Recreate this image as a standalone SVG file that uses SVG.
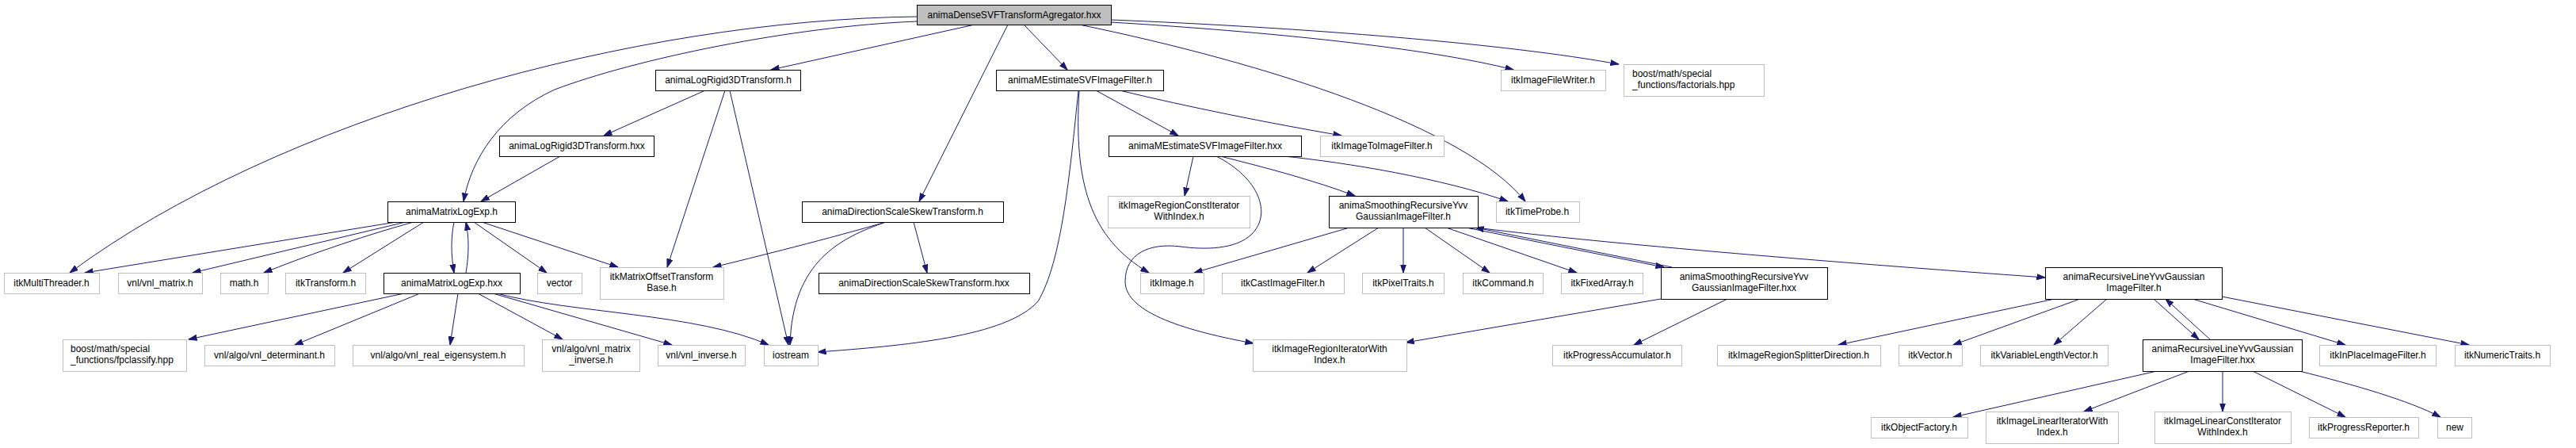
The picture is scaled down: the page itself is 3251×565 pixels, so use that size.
<svg xmlns="http://www.w3.org/2000/svg" width="3251" height="565" viewBox="0 0 3251 565">
<style>
.n rect{fill:#fff;stroke:#000;stroke-width:1}
.g rect{fill:#fff;stroke:#bfbfbf;stroke-width:1}
.r rect{fill:#bfbfbf;stroke:#000;stroke-width:1}
text{font-family:"Liberation Sans",Arial,Helvetica,sans-serif;font-size:12px;fill:#000;text-anchor:middle}
text.l{text-anchor:start}
#edges path{fill:none;stroke:#191970;stroke-width:1;marker-end:url(#a)}
</style>
<defs>
<marker id="a" markerUnits="userSpaceOnUse" markerWidth="11" markerHeight="8" refX="10.5" refY="4" orient="auto" viewBox="0 0 11 8">
<path d="M0,0.5 L10.5,4 L0,7.5 z" fill="#191970" stroke="#191970" stroke-width="1"/>
</marker>
</defs>
<rect width="3251" height="565" fill="#fff"/>
<g id="edges">
<path d="M1157,21 C800,25 350,150 88,344"/>
<path d="M1157,27 C1000,33 800,75 700,113 C630,145 595,200 585,254"/>
<path d="M1230,31 L973,88"/>
<path d="M1292,31 L1347,88"/>
<path d="M1272,31 L1160,254"/>
<path d="M1402,28 C1600,40 1800,60 1910,88"/>
<path d="M1402,25 C1650,35 1900,55 2043,81"/>
<path d="M1362,31 C1600,80 1850,160 1925,254"/>
<path d="M890,114 L762,171"/>
<path d="M915,114 L842,337"/>
<path d="M921,114 L995,435"/>
<path d="M707,197 L607,254"/>
<path d="M500,280 L107,344"/>
<path d="M512,280 L243,344"/>
<path d="M522,280 C450,300 380,325 333,344"/>
<path d="M535,280 L433,344"/>
<path d="M573,280 C569,300 569,320 573,344"/>
<path d="M588,344 C592,320 592,300 588,280"/>
<path d="M598,280 L690,344"/>
<path d="M608,280 L780,337"/>
<path d="M510,370 L238,428"/>
<path d="M530,370 L372,435"/>
<path d="M578,370 L568,435"/>
<path d="M603,370 L710,428"/>
<path d="M622,370 L848,435"/>
<path d="M627,370 C720,395 880,395 970,435"/>
<path d="M1118,280 C1050,300 950,325 900,337"/>
<path d="M1118,280 C1060,300 1000,330 997,435"/>
<path d="M1153,280 L1170,344"/>
<path d="M1383,114 L1487,171"/>
<path d="M1413,114 C1500,135 1600,155 1693,171"/>
<path d="M1361,114 C1350,220 1340,330 1310,380 C1270,425 1140,436 1032,444"/>
<path d="M1362,114 C1355,230 1375,300 1450,344"/>
<path d="M1506,197 L1495,247"/>
<path d="M1620,197 C1700,205 1820,225 1903,254"/>
<path d="M1540,197 C1600,212 1660,228 1710,247"/>
<path d="M1535,197 C1590,225 1605,270 1580,295 C1560,315 1520,315 1490,311 C1450,306 1420,320 1420,355 C1420,395 1500,418 1582,433"/>
<path d="M1703,287 L1507,344"/>
<path d="M1740,287 L1650,344"/>
<path d="M1771,287 L1771,344"/>
<path d="M1798,287 L1880,344"/>
<path d="M1825,287 L1990,344"/>
<path d="M1850,287 L2100,337"/>
<path d="M2110,337 L1862,287"/>
<path d="M1855,286 C2000,305 2300,330 2581,350"/>
<path d="M2096,377 L1774,432"/>
<path d="M2180,377 L2062,435"/>
<path d="M2593,377 L2320,435"/>
<path d="M2625,377 L2465,435"/>
<path d="M2659,377 L2592,435"/>
<path d="M2718,377 L2775,428"/>
<path d="M2789,428 L2733,377"/>
<path d="M2767,377 L2960,435"/>
<path d="M2804,374 L3116,435"/>
<path d="M2722,468 L2465,526"/>
<path d="M2763,468 L2630,519"/>
<path d="M2805,468 L2805,519"/>
<path d="M2843,468 L2960,526"/>
<path d="M2902,468 C2970,485 3040,505 3080,526"/>
</g>
<g id="n_root" class="r"><rect x="1157.5" y="6.5" width="245" height="25"/><text x="1280" y="23">animaDenseSVFTransformAgregator.hxx</text></g>
<g id="n_logrigid_h" class="n"><rect x="827.5" y="88.5" width="183" height="26"/><text x="919" y="105">animaLogRigid3DTransform.h</text></g>
<g id="n_logrigid_hxx" class="n"><rect x="630.5" y="171.5" width="195" height="26"/><text x="728" y="188">animaLogRigid3DTransform.hxx</text></g>
<g id="n_matrixlogexp_h" class="n"><rect x="489.5" y="254.5" width="161" height="26"/><text x="570" y="271">animaMatrixLogExp.h</text></g>
<g id="n_dirscale_h" class="n"><rect x="1012.5" y="254.5" width="254" height="26"/><text x="1139" y="271">animaDirectionScaleSkewTransform.h</text></g>
<g id="n_mest_h" class="n"><rect x="1257.5" y="88.5" width="211" height="26"/><text x="1363" y="105">animaMEstimateSVFImageFilter.h</text></g>
<g id="n_mest_hxx" class="n"><rect x="1399.5" y="171.5" width="243" height="26"/><text x="1521" y="188">animaMEstimateSVFImageFilter.hxx</text></g>
<g id="n_constiter" class="g"><rect x="1398.5" y="247.5" width="179" height="40"/><text x="1488" y="263">itkImageRegionConstIterator</text><text x="1488" y="277">WithIndex.h</text></g>
<g id="n_filewriter" class="g"><rect x="1894.5" y="88.5" width="132" height="26"/><text x="1960" y="105">itkImageFileWriter.h</text></g>
<g id="n_factorials" class="g"><rect x="2049.5" y="81.5" width="177" height="40"/><text class="l" x="2060" y="97">boost/math/special</text><text class="l" x="2060" y="111">_functions/factorials.hpp</text></g>
<g id="n_imgtoimg" class="g"><rect x="1666.5" y="171.5" width="156" height="26"/><text x="1744" y="188">itkImageToImageFilter.h</text></g>
<g id="n_smooth_h" class="n"><rect x="1677.5" y="247.5" width="188" height="40"/><text x="1771" y="263">animaSmoothingRecursiveYvv</text><text x="1771" y="277">GaussianImageFilter.h</text></g>
<g id="n_timeprobe" class="g"><rect x="1888.5" y="254.5" width="105" height="26"/><text x="1940" y="271">itkTimeProbe.h</text></g>
<g id="n_multithreader" class="g"><rect x="5.5" y="344.5" width="120" height="26"/><text x="65" y="361">itkMultiThreader.h</text></g>
<g id="n_vnlmatrix" class="g"><rect x="149.5" y="344.5" width="106" height="26"/><text x="202" y="361">vnl/vnl_matrix.h</text></g>
<g id="n_math" class="g"><rect x="278.5" y="344.5" width="60" height="26"/><text x="308" y="361">math.h</text></g>
<g id="n_transform" class="g"><rect x="360.5" y="344.5" width="101" height="26"/><text x="411" y="361">itkTransform.h</text></g>
<g id="n_matrixlogexp_hxx" class="n"><rect x="484.5" y="344.5" width="172" height="26"/><text x="570" y="361">animaMatrixLogExp.hxx</text></g>
<g id="n_fpclassify" class="g"><rect x="79.5" y="428.5" width="156" height="40"/><text class="l" x="89" y="444">boost/math/special</text><text class="l" x="89" y="458">_functions/fpclassify.hpp</text></g>
<g id="n_determinant" class="g"><rect x="258.5" y="435.5" width="164" height="26"/><text x="340" y="452">vnl/algo/vnl_determinant.h</text></g>
<g id="n_eigensystem" class="g"><rect x="445.5" y="435.5" width="216" height="26"/><text x="553" y="452">vnl/algo/vnl_real_eigensystem.h</text></g>
<g id="n_vector" class="g"><rect x="678.5" y="344.5" width="56" height="26"/><text x="706" y="361">vector</text></g>
<g id="n_matrixoffset" class="g"><rect x="757.5" y="337.5" width="156" height="40"/><text x="835" y="353">itkMatrixOffsetTransform</text><text x="835" y="367">Base.h</text></g>
<g id="n_matrixinverse" class="g"><rect x="684.5" y="428.5" width="123" height="40"/><text x="746" y="444">vnl/algo/vnl_matrix</text><text x="746" y="458">_inverse.h</text></g>
<g id="n_vnlinverse" class="g"><rect x="830.5" y="435.5" width="110" height="26"/><text x="885" y="452">vnl/vnl_inverse.h</text></g>
<g id="n_iostream" class="g"><rect x="964.5" y="435.5" width="68" height="26"/><text x="998" y="452">iostream</text></g>
<g id="n_dirscale_hxx" class="n"><rect x="1033.5" y="344.5" width="266" height="26"/><text x="1166" y="361">animaDirectionScaleSkewTransform.hxx</text></g>
<g id="n_image" class="g"><rect x="1439.5" y="344.5" width="80" height="26"/><text x="1479" y="361">itkImage.h</text></g>
<g id="n_cast" class="g"><rect x="1542.5" y="344.5" width="154" height="26"/><text x="1619" y="361">itkCastImageFilter.h</text></g>
<g id="n_regioniter" class="g"><rect x="1581.5" y="428.5" width="194" height="40"/><text x="1678" y="444">itkImageRegionIteratorWith</text><text x="1678" y="458">Index.h</text></g>
<g id="n_pixeltraits" class="g"><rect x="1719.5" y="344.5" width="103" height="26"/><text x="1771" y="361">itkPixelTraits.h</text></g>
<g id="n_command" class="g"><rect x="1846.5" y="344.5" width="101" height="26"/><text x="1897" y="361">itkCommand.h</text></g>
<g id="n_fixedarray" class="g"><rect x="1970.5" y="344.5" width="103" height="26"/><text x="2022" y="361">itkFixedArray.h</text></g>
<g id="n_smooth_hxx" class="n"><rect x="2096.5" y="337.5" width="210" height="40"/><text x="2201" y="353">animaSmoothingRecursiveYvv</text><text x="2201" y="367">GaussianImageFilter.hxx</text></g>
<g id="n_progacc" class="g"><rect x="1959.5" y="435.5" width="163" height="26"/><text x="2041" y="452">itkProgressAccumulator.h</text></g>
<g id="n_recline_h" class="n"><rect x="2581.5" y="337.5" width="223" height="40"/><text x="2693" y="353">animaRecursiveLineYvvGaussian</text><text x="2693" y="367">ImageFilter.h</text></g>
<g id="n_splitter" class="g"><rect x="2167.5" y="435.5" width="206" height="26"/><text x="2270" y="452">itkImageRegionSplitterDirection.h</text></g>
<g id="n_itkvector" class="g"><rect x="2396.5" y="435.5" width="80" height="26"/><text x="2436" y="452">itkVector.h</text></g>
<g id="n_varlenvec" class="g"><rect x="2499.5" y="435.5" width="161" height="26"/><text x="2580" y="452">itkVariableLengthVector.h</text></g>
<g id="n_objfactory" class="g"><rect x="2361.5" y="526.5" width="122" height="26"/><text x="2422" y="543">itkObjectFactory.h</text></g>
<g id="n_lineariter" class="g"><rect x="2506.5" y="519.5" width="167" height="40"/><text x="2590" y="535">itkImageLinearIteratorWith</text><text x="2590" y="549">Index.h</text></g>
<g id="n_recline_hxx" class="n"><rect x="2704.5" y="428.5" width="201" height="40"/><text x="2805" y="444">animaRecursiveLineYvvGaussian</text><text x="2805" y="458">ImageFilter.hxx</text></g>
<g id="n_inplace" class="g"><rect x="2927.5" y="435.5" width="147" height="26"/><text x="3001" y="452">itkInPlaceImageFilter.h</text></g>
<g id="n_numtraits" class="g"><rect x="3098.5" y="435.5" width="120" height="26"/><text x="3158" y="452">itkNumericTraits.h</text></g>
<g id="n_linearconstiter" class="g"><rect x="2719.5" y="519.5" width="172" height="40"/><text x="2805" y="535">itkImageLinearConstIterator</text><text x="2805" y="549">WithIndex.h</text></g>
<g id="n_progreporter" class="g"><rect x="2914.5" y="526.5" width="138" height="26"/><text x="2983" y="543">itkProgressReporter.h</text></g>
<g id="n_new" class="g"><rect x="3076.5" y="526.5" width="43" height="26"/><text x="3098" y="543">new</text></g>
</svg>
